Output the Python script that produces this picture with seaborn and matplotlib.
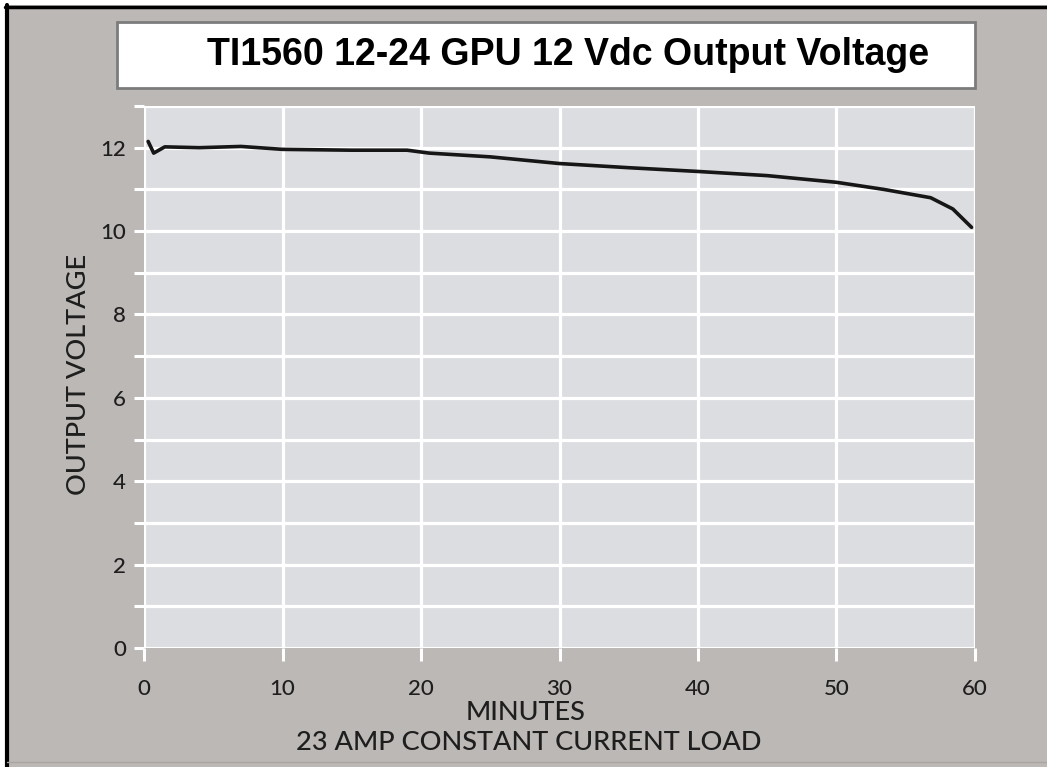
import matplotlib
matplotlib.use("Agg")
import matplotlib.pyplot as plt
import seaborn as sns
import pandas as pd
from matplotlib.patches import Rectangle
from matplotlib.lines import Line2D

# ---- data ----
minutes = [0.3, 0.7, 1.5, 4, 7, 10, 15, 19, 20.6, 25, 30, 35, 40, 45, 50, 53.4, 56.8, 58.4, 59.75]
volts = [12.15, 11.87, 12.02, 12.0, 12.03, 11.96, 11.94, 11.94, 11.87, 11.78, 11.62, 11.52, 11.43,
         11.33, 11.17, 11.0, 10.8, 10.53, 10.09]
x_ticks = [0, 10, 20, 30, 40, 50, 60]
y_ticks = [0, 2, 4, 6, 8, 10, 12]
title = "TI1560 12-24 GPU 12 Vdc Output Voltage"
xlabel1 = "MINUTES"
xlabel2 = "23 AMP CONSTANT CURRENT LOAD"
ylabel = "OUTPUT VOLTAGE"

df = pd.DataFrame({"minutes": minutes, "volts": volts})

sns.set_theme(style="white")
plt.rcParams["font.family"] = ["Lato", "DejaVu Sans"]

W, H = 1047, 767
fig = plt.figure(figsize=(W / 100, H / 100), dpi=100)
fig.patch.set_facecolor("#bcb8b6")

def fx(px):
    return px / W

def fy(py):
    return 1 - py / H

# plot area: x 0->px144, 60->px975 ; y 0->py648, 13->py106
ax = fig.add_axes([fx(144), fy(648), fx(975) - fx(144), fy(106) - fy(648)])
ax.set_facecolor("#dcdde1")

sns.lineplot(data=df, x="minutes", y="volts", ax=ax, color="#161616", linewidth=2.6, zorder=5)

ax.set_xlim(0, 60)
ax.set_ylim(0, 13)
ax.set_xticks(x_ticks)
ax.set_yticks(list(range(0, 14)), minor=False)
ax.set_yticklabels([str(v) if v in y_ticks else "" for v in range(0, 14)])
ax.grid(True, color="white", linewidth=2.3)
ax.set_axisbelow(True)
for s in ax.spines.values():
    s.set_visible(False)

ax.tick_params(axis="x", length=9, width=2.2, color="white", pad=13,
               labelsize=16, labelcolor="#1e1e1e", direction="out", bottom=True)
ax.tick_params(axis="y", length=7, width=2.2, color="white", pad=6,
               labelsize=16, labelcolor="#1e1e1e", direction="out", left=True)
for lab in ax.get_xticklabels() + ax.get_yticklabels():
    lab.set_fontweight("medium")
ax.set_xlabel("")
ax.set_ylabel("")

# axis labels
fig.text(fx(79), fy(374), ylabel, rotation=90, ha="center", va="center",
         fontsize=19.5, fontweight="medium", color="#1e1e1e")
fig.text(fx(526), fy(713), xlabel1, ha="center", va="center", fontsize=19.5,
         fontweight="medium", color="#1e1e1e")
fig.text(fx(529), fy(743), xlabel2, ha="center", va="center", fontsize=19.5,
         fontweight="medium", color="#1e1e1e")

# title box
fig.patches.append(Rectangle((fx(117), fy(88)), fx(975) - fx(117), fy(22) - fy(88),
                             transform=fig.transFigure, facecolor="white",
                             edgecolor="#7c7c7c", linewidth=2.0, zorder=1))
fig.text(fx(568), fy(55), title, ha="center", va="center", fontsize=27,
         fontweight="bold", family=["Liberation Sans", "DejaVu Sans"], color="black", zorder=2)

# outer frame (white margin + black lines on top/left)
fig.patches.append(Rectangle((0, fy(5)), 1, 1 - fy(5), transform=fig.transFigure,
                             facecolor="white", edgecolor="none", zorder=3))
fig.patches.append(Rectangle((0, 0), fx(5), 1, transform=fig.transFigure,
                             facecolor="white", edgecolor="none", zorder=3))
fig.lines.append(Line2D([fx(5), 1], [fy(6.5), fy(6.5)], transform=fig.transFigure,
                        color="black", linewidth=2.5, zorder=4))
fig.lines.append(Line2D([fx(7), fx(7)], [0, fy(5)], transform=fig.transFigure,
                        color="black", linewidth=3.0, zorder=4))
fig.lines.append(Line2D([fx(7), 1], [fy(762), fy(762)], transform=fig.transFigure,
                        color="#a9a5a3", linewidth=1.0, zorder=4))

fig.savefig("out.png", dpi=100, facecolor=fig.get_facecolor())
